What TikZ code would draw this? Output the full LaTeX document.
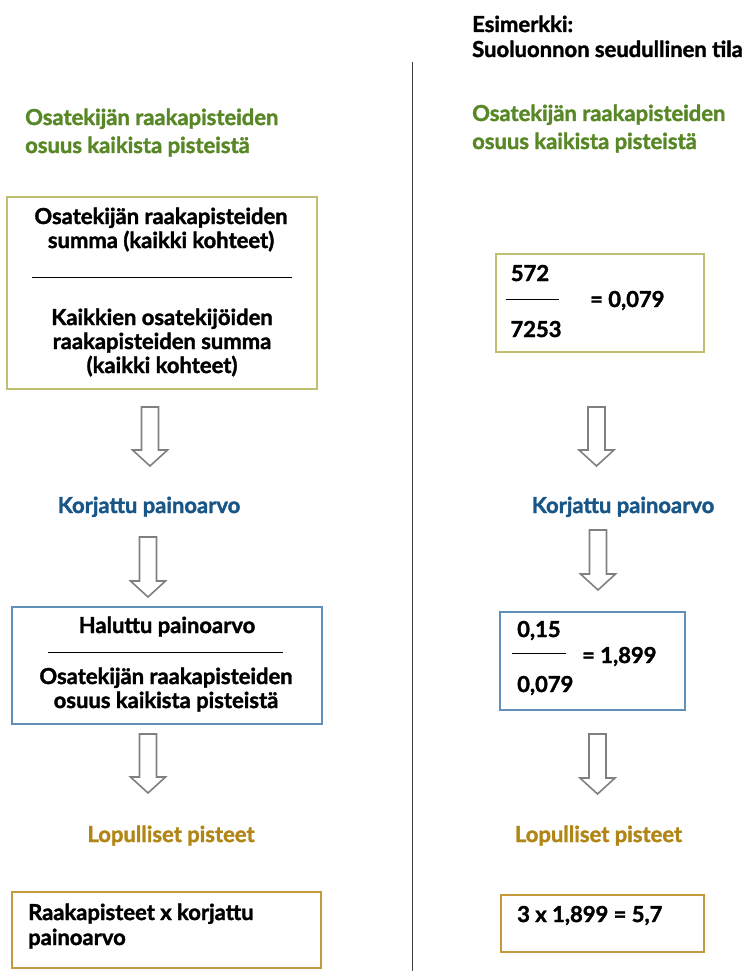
\documentclass[tikz,border=0pt]{standalone}
\usepackage{fontspec}
\setmainfont{Lato}[BoldFont={Lato Bold}, BoldFeatures={FakeBold=1.6}]
\definecolor{hgreen}{RGB}{88,135,38}
\definecolor{hblue}{RGB}{24,86,136}
\definecolor{hgold}{RGB}{178,134,22}
\definecolor{bolive}{RGB}{192,190,112}
\definecolor{bblue}{RGB}{96,143,185}
\definecolor{bgold}{RGB}{196,154,60}
\definecolor{agray}{RGB}{128,128,128}
\tikzset{
  txt/.style={inner sep=0pt, font=\fontsize{22}{24}\selectfont\bfseries},
  boxline/.style={line width=1.3pt},
  fracline/.style={line width=0.8pt, black},
  hollowarrow/.style={draw=agray, line width=1.6pt, fill=white, line join=miter},
}
\newcommand\downarrowshape[3]{%
  \draw[hollowarrow] ({#1-8.5},#2) -- ({#1+8.5},#2) -- ({#1+8.5},{#3-16}) -- ({#1+17.5},{#3-16})
    -- (#1,#3) -- ({#1-17.5},{#3-16}) -- ({#1-8.5},{#3-16}) -- cycle;}
\begin{document}
\begin{tikzpicture}[x=1pt,y=-1pt]
\useasboundingbox[fill=white] (0,0) rectangle (749,971);

% divider
\coordinate (divtop) at (412,62);
\coordinate (divbot) at (412,971);
\draw[line width=1pt, black!75] (divtop) -- (divbot);

% top right example title
\node[txt, anchor=base west] (ex1) at (472,32) {Esimerkki:};
\node[txt, anchor=base west] (ex2) at (472,57) {Suoluonnon seudullinen tila};

% green headings
\node[txt, text=hgreen, anchor=base west] (gl1) at (25,125) {Osatekijän raakapisteiden};
\node[txt, text=hgreen, anchor=base west] (gl2) at (25,153) {osuus kaikista pisteistä};
\node[txt, text=hgreen, anchor=base west] (gr1) at (472,121) {Osatekijän raakapisteiden};
\node[txt, text=hgreen, anchor=base west] (gr2) at (472,149) {osuus kaikista pisteistä};

% left box 1
\draw[boxline, draw=bolive] (7,197) rectangle (317,389);
\node[txt, anchor=base] (l1a) at (161,224) {Osatekijän raakapisteiden};
\node[txt, anchor=base] (l1b) at (161,248) {summa (kaikki kohteet)};
\draw[fracline] (32,277) -- (292,277);
\node[txt, anchor=base] (l1c) at (162,325) {Kaikkien osatekijöiden};
\node[txt, anchor=base] (l1d) at (162,349) {raakapisteiden summa};
\node[txt, anchor=base] (l1e) at (162,373) {(kaikki kohteet)};

% right box 1
\draw[boxline, draw=bolive] (496,254) rectangle (704,352);
\node[txt, anchor=base] (r1a) at (530,281) {572};
\draw[fracline] (506,299) -- (559,299);
\node[txt, anchor=base] (r1b) at (536,337) {7253};
\node[txt, anchor=base west] (r1c) at (590,307) {= 0,079};

% arrows
\downarrowshape{150}{407}{466}
\downarrowshape{148}{537}{597}
\downarrowshape{148}{734}{793}
\downarrowshape{596.5}{407}{466}
\downarrowshape{598}{530}{590}
\downarrowshape{597.5}{734}{794}

% Korjattu painoarvo
\node[txt, text=hblue, anchor=base] (kl) at (149,513) {Korjattu painoarvo};
\node[txt, text=hblue, anchor=base] (kr) at (623,513) {Korjattu painoarvo};

% left box 2
\draw[boxline, draw=bblue] (12,607) rectangle (322,724);
\node[txt, anchor=base] (l2a) at (167,633) {Haluttu painoarvo};
\draw[fracline] (48,652) -- (283,652);
\node[txt, anchor=base] (l2b) at (166,684) {Osatekijän raakapisteiden};
\node[txt, anchor=base] (l2c) at (166,708) {osuus kaikista pisteistä};

% right box 2
\draw[boxline, draw=bblue] (500,612) rectangle (685,710);
\node[txt, anchor=base west] (r2a) at (517,637) {0,15};
\draw[fracline] (512,653) -- (566,653);
\node[txt, anchor=base west] (r2b) at (517,692) {0,079};
\node[txt, anchor=base west] (r2c) at (582,663) {= 1,899};

% Lopulliset pisteet
\node[txt, text=hgold, anchor=base] (pl) at (171,842) {Lopulliset pisteet};
\node[txt, text=hgold, anchor=base] (pr) at (598.5,842) {Lopulliset pisteet};

% left box 3
\draw[boxline, draw=bgold] (12,892) rectangle (321,968);
\node[txt, anchor=base west] (l3a) at (28,920) {Raakapisteet x korjattu};
\node[txt, anchor=base west] (l3b) at (28,945) {painoarvo};

% right box 3
\draw[boxline, draw=bgold] (501,895) rectangle (704,952);
\node[txt, anchor=base west] (r3a) at (517,922) {3 x 1,899 = 5,7};
\end{tikzpicture}
\end{document}
